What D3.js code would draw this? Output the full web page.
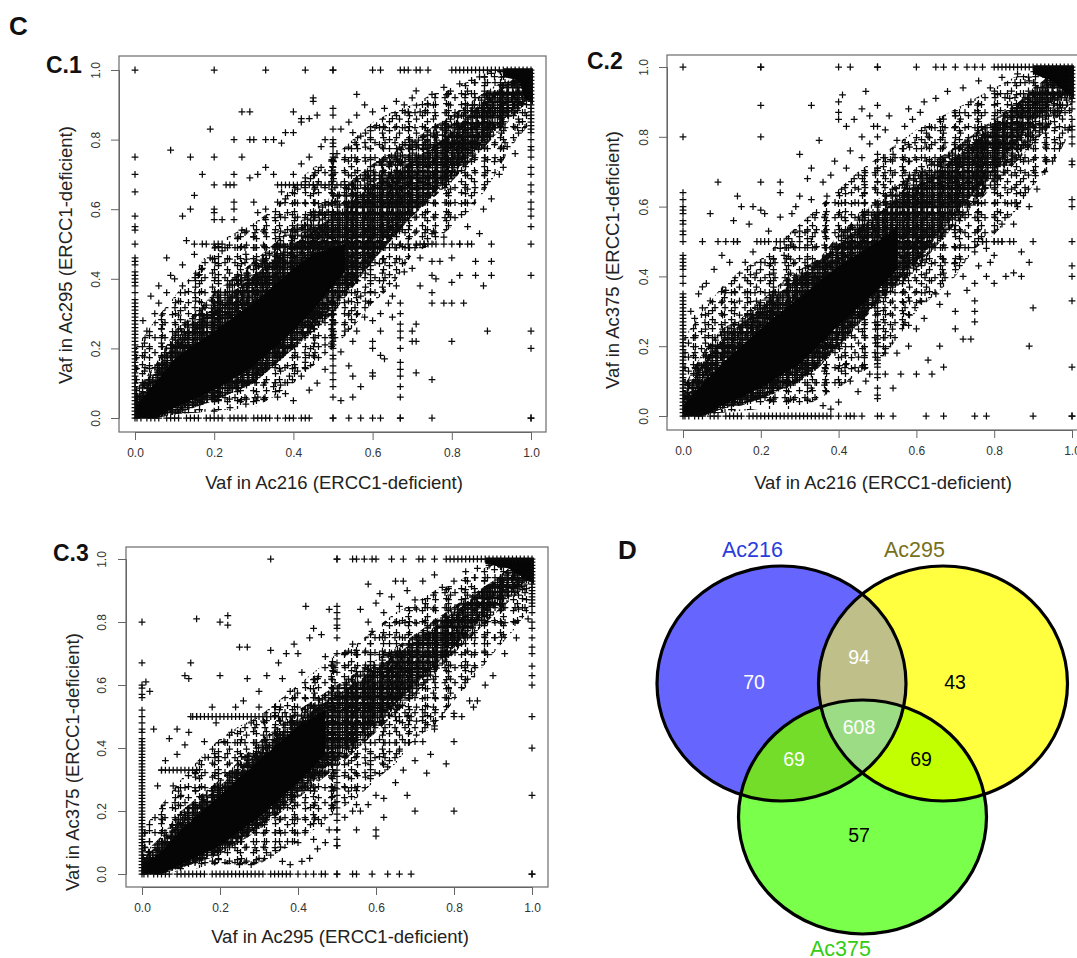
<!DOCTYPE html>
<html><head><meta charset="utf-8">
<script src="https://cdn.jsdelivr.net/npm/d3@7/dist/d3.min.js"></script>
<style>html,body{margin:0;background:#fff}svg{display:block}text{font-family:"Liberation Sans",Arial,sans-serif}</style>
</head><body><svg id="c" width="1077" height="958"></svg>
<script>
const tickValues=[0,0.2,0.4,0.6,0.8,1];
// All values are Vaf in %.
// Columns: [x,[y...]]  Rows: [y,[x...]]  Scatter: [x,y]  Bands: [x,low,high]
const c1Cols=[
[0,[100,75,70,65,58,55,54,50,46,45,44,42,41,40,39,38,36,34,33,32,31,30,29,28,27,26,25,24,23,22,21,20,19,18,17,16,15,14,13,12,11,10,9,8,7,6,5,4,3,2,1,0]],
[50,[0,6,9,11,13,15,17,18,20,21,22,23,24,25,27,28,30,31,33,68,70,72,74,75,76,78,79,80,83,87,89,100]],
[67,[0,6,9,12,14,16,20,23,25,27,30,33]],
[100,[100,99,98,97,96,95,94,93,92,91,90,89,88,87,86,85,84,83,82,80,78,77,75,72,70,67,65,62,60,58,55,50,41,25,20,0]]];
const c1Rows=[
[0,[0.5,1.5,3,4,5,6,8,9,10,11,13,14,15,16,18,19,20,21,22,24,25,26,27,28,30,31,32,33,34,36,38,39,40,42,43,44,50,54,57,60,62,67,75,100]],
[100,[20,33,43,50,60,62,67,68,69,71,72,74,80,81,82,83,84,85,86,87,88,89,90,91,92,93,94,95,96,97,98,99]],
[67,[36,37,38,39,40,41,42,43,44,45,46,47,48,49,51,52,53,54,55]],
[50,[65,67,69,71,72,73,74,75,76,78,80,82,84,90]]];
const c1Scatter=[[27,88],[29,88],[19,83],[9,77],[14,75],[20,75],[27,75],[25,80],[29,80],[30,80],[33,80],[35,80],[37,79],[38,82],[40,82],[40,88],[42,86],[42,85],[44,86],[46,87],[45,92],[45,91],[56,93],[71,94],[17,70],[25,70],[29,69],[31,70],[33,72],[35,70],[15,64],[20,67],[23,67],[24,67],[25,67],[14,60],[12,58],[20,60],[20,59],[20,57],[25,62],[25,60],[25,57],[22,57],[13,51],[15,50],[17,50],[18,50],[20,50],[21,50],[22,50],[8,46],[30,62],[31,59],[33,57],[36,62],[37,65],[40,70],[42,73],[44,75],[47,78],[48,80],[52,83],[54,85],[55,82],[56,87],[58,90],[60,88],[63,89],[66,91],[68,90],[70,92],[72,88],[75,93],[78,95],[82,96],[85,97],[87,98],[90,99],[27,54],[30,52],[28,47],[10,40],[12,44],[15,47],[17,43],[6,33],[8,36],[5,30],[3,25],[2,28],[4,35],[6,38],[9,41],[12,38],[16,41],[19,46],[22,48],[26,52],[33,60],[38,63],[43,69],[47,72],[51,76],[57,81],[61,84],[65,86],[69,88],[74,90],[79,93],
[75,33],[78,33],[80,33],[83,33],[75,36],[88,38],[86,41],[90,41],[90,45],[86,45],[82,41],[80,39],[75,41],[76,40],[75,45],[77,45],[72,38],[71,27],[70,25],[70,22],[71,22],[71,13],[75,11],[89,25],[80,22],[60,22],[60,20],[60,13],[60,12],[62,18],[63,17],[57,9],[55,6],[52,5],[54,15],[55,22],[55,12],[48,14],[46,10],[44,8],[40,5],[38,7],[36,6],[42,12],[44,18],[52,19],[56,25],[58,29],[62,30],[65,35],[68,42],[72,46],[73,50],[78,52],[82,50],[84,55],[88,60],[92,70],[94,78],[97,85],[96,76],[93,72],[90,63],[87,53],[85,50],[80,46],[75,53],[70,43],[66,38],[64,33],[60,28],[53,25],[48,21],[43,16],[39,12],[35,9],[31,6],[28,4],[24,3],[20,2],[62,25],[65,29],[59,33],[57,35],[54,30]];
const c1Outer=[[0,0,20],[5,0,28],[10,1,35],[15,1.5,42],[20,2,50],[25,2.5,53],[30,3,56],[35,6,60],[40,10,67],[45,15,72],[50,20,75],[55,26,80],[60,33,85],[65,38,88],[70,47,90],[75,50,93],[80,55,95],[85,60,97],[90,68,100],[95,78,100],[100,85,100]];
const c1Inner=[[0,0,8],[5,0,15],[10,2,25],[15,3,30],[20,5,36],[30,10,45],[40,20,55],[50,30,64],[60,45,73],[70,58,80],[80,68,87],[90,80,95],[100,92,100]];
const c1Heavy=[[0,0,5],[5,0,13],[10,1,22],[20,5,32],[30,10,41],[40,20,50],[50,32,58],[60,45,67],[65,52,70],[70,58,74],[80,70,82],[85,76,88],[90,82,93],[95,88,97],[100,92,100]];
const c1Core=[[0,0,3],[5,0,10],[10,3,17],[20,8,25],[30,15,33],[40,25,43],[45,31,47],[50,38,49],[53,42,50]];
const c1Corner=[[93,98,100.5],[97,97,100.5],[98.5,92,100.5],[100.5,90,100.5]];

const c2Cols=[
[0,[100,80,64,62,60,59,58,56,55,53,52,50,46,45,44,43,42,40,38,35,34,33,32,31,30,29,28,27,26,25,24,23,22,21,20,19,18,17,16,15,14,13,12,11,10,9,8,7,6,5,4,3,2,1,0]],
[50,[0,5,8,11,12,14,15,16,18,20,21,22,23,25,26,27,29,30,31,33,64,67,71,75,80,83,89,100]],
[20,[100,89,80,67,59,50]],
[33,[0,8,12,50,62,89]],
[100,[100,99,98,97,96,95,94,93,92,91,90,88,85,83,82,80,78,73,72,62,60,50,43,40,33,14,0]]];
const c2Rows=[
[0,[0.5,1.5,3,4,5,7,8,9,11,12,13,14,15,17,18,19,20,21,22,23,24,25,26,27,28,29,30,31,32,34,35,36,37,38,40,42,43,44,46,51,54,62.5,67,75,78,90,100]],
[100,[20,40,43,50,60,65,67,70,73,75,77,80,81,82,83,84,85,86,87,88,89,90,91,92,93,94,95,96,97,98,99]],
[50,[5,9,11,13,14,19,21,22,25,26,28,30,75,77,78,80,81,82,85,90]]];
const c2Scatter=[[35,79],[40,90],[41,92],[40,87],[47,93],[46,88],[44,85],[42,83],[40,85],[30,75],[25,67],[9,67],[25,64],[14,63],[7,58],[15,60],[21,58],[25,57],[13,56],[18,60],[17,55],[22,53],[29,60],[30,53],[32,68],[33,71],[30,63],[28,58],[25,48],[5,31],[6,38],[4,35],[8,42],[10,46],[12,44],[11,36],[3,28],[2,30],[5,37],[7,33],[14,50],[16,44],[18,47],[20,44],[24,50],[26,46],[36,67],[37,63],[38,69],[39,73],[42,71],[43,76],[44,68],[46,74],[48,78],[50,71],[52,82],[53,86],[55,79],[57,83],[59,85],[61,87],[63,80],[65,91],[68,93],[70,86],[72,94],[74,90],[76,96],[79,94],[82,97],[84,91],[86,98],[89,96],[46,80],[48,86],[54,75],[58,88],[62,90],[66,85],[49,83],
[89,20],[90,31],[75,33],[75,30],[75,27],[70,25],[74,22],[72,22],[78,40],[80,38],[83,40],[85,41],[89,44],[87,40],[75,38],[64,12],[67,14],[60,12],[56,12],[54,8],[50,6],[52,12],[45,7],[40,4],[38,2],[36,3],[47,10],[43,10],[42,15],[46,14],[55,18],[58,20],[60,25],[66,20],[63,16],[70,30],[68,35],[72,40],[75,47],[77,50],[80,46],[82,50],[85,55],[89,60],[91,65],[93,70],[95,73],[97,78],[99,82],[88,64],[86,60],[82,55],[78,48],[66,32],[62,28],[58,26],[52,18],[48,12],[61,33],[65,35],[73,36],[76,43],[84,50],[87,47],[80,50],[79,44]];
const c2Outer=[[0,0,22],[5,0,30],[10,1,37],[15,1.5,42],[20,2,45],[30,2,55],[35,5,60],[40,8,65],[45,12,70],[50,15,74],[55,22,78],[60,30,82],[65,35,85],[70,40,88],[75,48,91],[80,52,94],[85,58,97],[90,66,99],[95,72,100],[100,82,100]];
const c2Inner=[[0,0,8],[5,0,18],[10,2,25],[15,3,28],[20,5,33],[25,7,38],[30,10,42],[35,14,45],[40,20,52],[50,32,62],[60,42,70],[70,55,77],[80,66,85],[90,78,93],[100,90,100]];
const c2Heavy=[[0,0,6],[5,0,15],[10,2,22],[20,5,31],[30,10,40],[40,20,49],[50,33,58],[60,44,66],[70,58,74],[80,70,83],[90,84,94],[95,90,98],[100,93,100]];
const c2Core=[[0,0,3],[5,0,9],[10,3,15],[20,8,25],[30,15,34],[40,26,43],[50,36,50],[55,42,54]];
const c2Corner=[[90,98,100.5],[95,96,100.5],[98,93,100.5],[100.5,91,100.5]];

const c3Cols=[
[0,[80,67,60,59,57,56,52,50,48,46,45,43,42,41,40,39,38,37,36,35,34,33,32,31,30,29,28,27,26,25,24,23,22,21,20,19,18,17,16,15,14,13,12,11,10,9,8,7,6,5,4,3,2,1,0]],
[50,[0,9,11,14,17,19,21,23,25,27,29,31,33,64,67,70,75,79,81,83,85,100]],
[100,[100,99,98,97,96,95,94,93,92,91,90,89,88,87,86,85,83,80,78,75,72,70,66,63,60,50,40,25,0]]];
const c3Rows=[
[0,[0.5,1.5,3,4,5,6,7,9,10,11,12,13,14,15,16,18,19,20,21,22,23,24,25,26,27,28,29,30,31,33,34,35,36,37,38,40,42,44,46,47,50,54,55,59,63,66,69,100]],
[100,[33,50,54,55,57,59,60,64,67,71,72,75,78,79,80,81,82,83,84,85,86,87,88,89,90,91,92,93,94,95,96,97,98,99]],
[50,[12.5,13,14,15,16,17,18,19,20,21,22,23,24,25,26,27,28,29,30,31,32,33,34,35,36,37,38,65,66,68,69,72,74,77,80]],
[33,[5,6,7,8,9,10,11,12,13,14]]];
const c3Scatter=[[20,80],[22,79],[22,82],[14,81],[27,72],[12.5,67],[20,63],[25,72],[1,61],[2,58],[3,46],[9,46],[11,63],[12,62],[18,53],[14,50],[11,41],[5,33],[6,36],[4,28],[7,43],[9,38],[12,45],[16,42],[19,48],[24,53],[27,62],[30,58],[33,71],[35,67],[37,70],[39,73],[41,64],[42,85],[43,75],[44,78],[46,76],[48,84],[50,78],[54,73],[55,71],[58,92],[52,70],[49,66],[47,69],[45,62],[38,58],[34,53],[30,53],[28,48],[26,55],[21,42],[17,37],[10,25],[8,28],[14,33],[23,45],[32,63],[36,62],[40,70],[56,84],[58,80],[60,86],[62,83],[64,88],[66,85],[68,90],[70,87],[72,93],[75,95],[77,91],[80,93],[83,96],[86,97],[89,98],[67,93],[59,77],[61,89],[65,93],
[80,20],[70,20],[60,14],[60,12],[55,14],[50,9],[45,8],[43,5],[38,3],[41,4],[36,4],[47,10],[52,18],[56,20],[62,24],[65,29],[67,33],[70,36],[72,42],[75,46],[77,50],[80,42],[82,50],[84,55],[90,63],[93,70],[96,75],[99,81],[86,55],[80,51],[75,47],[74,38],[73,32],[70,42],[66,39],[63,34],[58,22],[54,20],[48,14],[44,11],[40,10],[33,6],[30,5],[28,3],[25,3],[85,53],[88,60],[78,35],[60,25],[62,18],[55,22],[50,14],[46,16],[68,25]];
const c3Outer=[[0,0,14],[5,0,22],[10,1,30],[15,2,37],[20,3,43],[25,3,47],[30,3,50],[35,7,55],[40,10,60],[45,15,65],[50,20,70],[55,24,73],[60,30,78],[65,35,83],[70,43,86],[75,47,90],[80,55,92],[85,62,96],[90,70,98],[95,77,100],[100,85,100]];
const c3Inner=[[0,0,6],[5,0,12],[10,2,20],[20,6,30],[30,14,42],[40,24,52],[50,34,60],[60,45,68],[70,57,76],[80,70,85],[90,82,93],[100,93,100]];
const c3Heavy=[[0,0,5],[5,0,10],[10,2,18],[20,7,28],[30,15,39],[40,26,49],[50,37,57],[60,48,65],[70,60,74],[80,72,83],[90,85,93],[95,90,98],[100,94,100]];
const c3Core=[[0,0,3],[5,0,7],[10,3,14],[20,9,25],[30,18,36],[40,29,47],[47,38,52]];
const c3Corner=[[88,98.5,100.5],[94,97,100.5],[98,94,100.5],[100.5,92,100.5]];

const yTitles=["Vaf in Ac295 (ERCC1-deficient)","Vaf in Ac375 (ERCC1-deficient)","Vaf in Ac375 (ERCC1-deficient)"];
const xTitles=["Vaf in Ac216 (ERCC1-deficient)","Vaf in Ac216 (ERCC1-deficient)","Vaf in Ac295 (ERCC1-deficient)"];
const panelLabels=["C.1","C.2","C.3"];
const vennNames=["Ac216","Ac295","Ac375"];
const vennCounts=[70,43,57,94,69,69,608];

const svg=d3.select("#c");
const pathPlus="M-3.4 0H3.4M0-3.4V3.4";
const defs=svg.append("defs");
// Density texture: overlaid plus marks with unrelated periods, used only inside the read envelopes.
const outerTex=[[13,11],[17,14],[19,9],[23,17],[10,15]];
const innerTex=[[7,10],[9,8],[11,13],[6,17],[15,6]];
const heavyTex=[[5,7],[6,5],[8,6]];
const addTex=(list,prefix)=>list.forEach(([w,h],i)=>{
  defs.append("pattern").attr("id",prefix+i).attr("patternUnits","userSpaceOnUse").attr("width",w).attr("height",h)
   .append("path").attr("d",pathPlus).attr("transform",`translate(${w/2},${h/2})`).attr("stroke","#0a0a0a").attr("stroke-width",1.25).attr("fill","none");
});
addTex(outerTex,"ot");addTex(innerTex,"it");addTex(heavyTex,"ht");

function panel(o){
  const x=d3.scaleLinear().domain([0,1]).range([o.x0,o.x1]);
  const y=d3.scaleLinear().domain([0,1]).range([o.y0,o.y1]);
  const g=svg.append("g");
  g.append("rect").attr("x",o.bl).attr("y",o.bt).attr("width",o.br-o.bl).attr("height",o.bb-o.bt)
    .attr("fill","none").attr("stroke","#6b6b6b").attr("stroke-width",1.2);
  const style=(s)=>{s.selectAll("path,line").attr("stroke","#666").attr("stroke-width",1);
    s.selectAll("text").attr("fill","#333").attr("font-size",12).attr("font-family",'"Liberation Sans",Arial,sans-serif');};
  g.append("g").attr("transform",`translate(0,${o.bb})`)
    .call(d3.axisBottom(x).tickValues(tickValues).tickFormat(d3.format(".1f")).tickSizeOuter(0).tickSize(8).tickPadding(8)).call(style);
  const ya=g.append("g").attr("transform",`translate(${o.bl},0)`)
    .call(d3.axisLeft(y).tickValues(tickValues).tickFormat(d3.format(".1f")).tickSizeOuter(0).tickSize(8).tickPadding(0)).call(style);
  ya.selectAll("text").attr("text-anchor","middle").attr("dy",0).attr("dominant-baseline","middle")
    .attr("x",0).attr("y",0).attr("transform",`translate(${o.ytx-o.bl},0) rotate(-90)`);
  const area=d3.area().x(d=>x(d[0]/100)).y0(d=>y(d[1]/100)).y1(d=>y(d[2]/100));
  outerTex.forEach((t,i)=>g.append("path").datum(o.outer).attr("d",area).attr("fill",`url(#ot${i})`));
  innerTex.forEach((t,i)=>g.append("path").datum(o.inner).attr("d",area).attr("fill",`url(#it${i})`));
  heavyTex.forEach((t,i)=>g.append("path").datum(o.heavy).attr("d",area).attr("fill",`url(#ht${i})`));
  g.selectAll("path.core").data([o.core,o.corner]).join("path").attr("class","core").attr("d",area).attr("fill","#050505");
  const pts=o.scatter.map(d=>[d[0]/100,d[1]/100]);
  o.cols.forEach(([c,ys])=>ys.forEach(v=>pts.push([c/100,v/100])));
  o.rows.forEach(([r,xs])=>xs.forEach(v=>pts.push([v/100,r/100])));
  g.append("g").selectAll("path").data(pts).join("path").attr("d",pathPlus)
    .attr("transform",d=>`translate(${x(d[0])},${y(d[1])})`)
    .attr("stroke","#0a0a0a").attr("stroke-width",1.25).attr("fill","none");
  g.append("text").attr("x",o.xtc).attr("y",o.xty).attr("text-anchor","middle").attr("font-size",18.5).attr("fill","#222").text(o.xt);
  g.append("text").attr("transform",`translate(${o.ytt},${o.ytc}) rotate(-90)`).attr("text-anchor","middle").attr("font-size",18.5).attr("fill","#222").text(o.yt);
  g.append("text").attr("x",o.lx).attr("y",o.ly).attr("font-size",23).attr("font-weight","bold").attr("fill","#111").text(o.label);
}
panel({label:panelLabels[0],lx:46,ly:73,x0:135,x1:531,y0:418,y1:70,bl:119,br:546,bt:56,bb:432,ytx:97,ytt:72,ytc:255,xtc:334,xty:489,xt:xTitles[0],yt:yTitles[0],cols:c1Cols,rows:c1Rows,scatter:c1Scatter,outer:c1Outer,inner:c1Inner,heavy:c1Heavy,core:c1Core,corner:c1Corner});
panel({label:panelLabels[1],lx:587,ly:69,x0:683,x1:1072,y0:416,y1:67,bl:667,br:1088,bt:55,bb:430,ytx:645,ytt:619,ytc:260,xtc:883,xty:489,xt:xTitles[1],yt:yTitles[1],cols:c2Cols,rows:c2Rows,scatter:c2Scatter,outer:c2Outer,inner:c2Inner,heavy:c2Heavy,core:c2Core,corner:c2Corner});
panel({label:panelLabels[2],lx:53,ly:561,x0:142,x1:532,y0:874,y1:559,bl:126,br:548,bt:547,bb:887,ytx:103,ytt:79,ytc:762,xtc:340,xty:943,xt:xTitles[2],yt:yTitles[2],cols:c3Cols,rows:c3Rows,scatter:c3Scatter,outer:c3Outer,inner:c3Inner,heavy:c3Heavy,core:c3Core,corner:c3Corner});

svg.append("text").attr("x",9).attr("y",35).attr("font-size",26).attr("font-weight","bold").attr("fill","#111").text("C");
svg.append("text").attr("x",618).attr("y",559).attr("font-size",26).attr("font-weight","bold").attr("fill","#111").text("D");

// Venn
const E=[{cx:781.5,cy:683.5,rx:124.5,ry:117.5},{cx:943,cy:683.5,rx:124.5,ry:117.5},{cx:862.5,cy:817,rx:124,ry:117}];
E.forEach((e,i)=>defs.append("clipPath").attr("id","v"+i).append("ellipse").attr("cx",e.cx).attr("cy",e.cy).attr("rx",e.rx).attr("ry",e.ry));
const v=svg.append("g");
const ell=(e,fill,clip)=>{const el=v.append("ellipse").attr("cx",e.cx).attr("cy",e.cy).attr("rx",e.rx).attr("ry",e.ry).attr("fill",fill).attr("stroke","none");if(clip!=null)el.attr("clip-path",`url(#v${clip})`);return el;};
ell(E[0],"#6666ff");ell(E[1],"#ffff40");ell(E[2],"#7aff4a");
ell(E[1],"#bfbf8a",0);ell(E[2],"#73dd29",0);ell(E[2],"#c2ff00",1);
v.append("g").attr("clip-path","url(#v0)").call(s=>{s.append("ellipse").attr("cx",E[2].cx).attr("cy",E[2].cy).attr("rx",E[2].rx).attr("ry",E[2].ry).attr("fill","#9cdc85").attr("clip-path","url(#v1)");});
E.forEach(e=>v.append("ellipse").attr("cx",e.cx).attr("cy",e.cy).attr("rx",e.rx).attr("ry",e.ry).attr("fill","none").attr("stroke","#000").attr("stroke-width",3.2));
const vennPos=[[754,682,"#fff"],[955,682,"#000"],[859,835,"#000"],[859,657,"#fff"],[794,759,"#fff"],[921,759,"#000"],[859,727,"#fff"]];
vennCounts.forEach((c,i)=>v.append("text").attr("x",vennPos[i][0]).attr("y",vennPos[i][1]+7).attr("text-anchor","middle").attr("font-size",19.5).attr("fill",vennPos[i][2]).text(c));
const vennLab=[[752.5,557,"#2a3cdc"],[914.5,557,"#77701a"],[840.5,956,"#33cc11"]];
vennNames.forEach((n,i)=>v.append("text").attr("x",vennLab[i][0]).attr("y",vennLab[i][1]).attr("text-anchor","middle").attr("font-size",21.5).attr("fill",vennLab[i][2]).text(n));
</script></body></html>
